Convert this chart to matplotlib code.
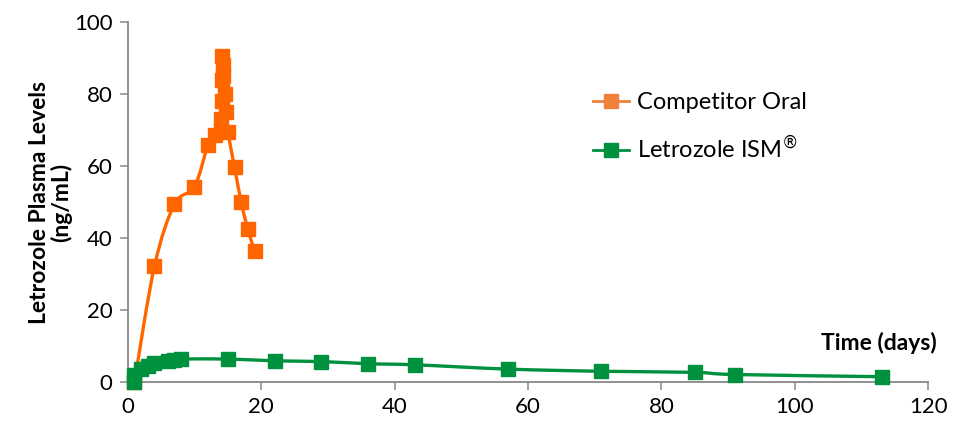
import matplotlib
matplotlib.use("Agg")
import matplotlib.pyplot as plt
import numpy as np
from matplotlib.lines import Line2D
from matplotlib.path import Path
from matplotlib.patches import PathPatch

plt.rcParams["font.family"] = ["Lato", "DejaVu Sans"]

# plasma levels (ng/mL) against time (days)
oral_days = [1, 4, 7, 10, 12, 13, 14.0, 14.04, 14.08, 14.12, 14.17, 14.25,
             14.33, 14.5, 14.67, 15, 16, 17, 18, 19]
oral_conc = [0, 32.2, 49.4, 54.3, 65.8, 68.6, 70, 73, 78, 84, 90.5, 88,
             85, 80, 75, 69.5, 59.8, 49.9, 42.5, 36.4]

ism_days = [1, 1, 2, 3, 4, 6, 7, 8, 15, 22, 29, 36, 43, 57, 71, 85, 91, 113]
ism_conc = [0, 2.0, 3.5, 4.5, 5.2, 5.9, 6.2, 6.4, 6.4, 5.9, 5.7, 5.1,
            4.8, 3.6, 3.0, 2.7, 2.1, 1.5]

ORANGE = "#FF6600"
GREEN = "#00913F"


def smooth_path(xs, ys):
    """Cubic Bezier through the points, Catmull-Rom style tangents."""
    p = np.column_stack([xs, ys]).astype(float)
    verts = [p[0]]
    codes = [Path.MOVETO]
    n = len(p)
    for i in range(n - 1):
        p0 = p[i - 1] if i > 0 else p[i]
        p3 = p[i + 2] if i + 2 < n else p[i + 1]
        c1 = p[i] + (p[i + 1] - p0) / 6.0
        c2 = p[i + 1] - (p3 - p[i]) / 6.0
        verts += [c1, c2, p[i + 1]]
        codes += [Path.CURVE4] * 3
    return Path(verts, codes)


fig = plt.figure(figsize=(9.68, 4.25), dpi=100)
ax = fig.add_axes([0.132, 0.101, 0.827, 0.847])

for xs, ys, col in [(oral_days, oral_conc, ORANGE), (ism_days, ism_conc, GREEN)]:
    ax.add_patch(PathPatch(smooth_path(xs, ys), facecolor="none",
                           edgecolor=col, lw=2.4, capstyle="round",
                           clip_on=False))
    ax.plot(xs, ys, ls="none", marker="s", ms=10, color=col, mec=col,
            clip_on=False, zorder=3)

ax.set_xlim(0, 120)
ax.set_ylim(0, 100)
ax.set_xticks(range(0, 121, 20))
ax.set_yticks(range(0, 101, 20))
for s in ["top", "right"]:
    ax.spines[s].set_visible(False)
for s in ["left", "bottom"]:
    ax.spines[s].set_color("#888888")
    ax.spines[s].set_linewidth(1.3)
ax.tick_params(direction="out", length=6, width=1.1, color="#888888",
               labelsize=16, labelcolor="black", pad=5)

ax.set_ylabel("Letrozole Plasma Levels\n(ng/mL)", fontsize=16.5,
              fontweight="bold", labelpad=1, linespacing=1.05)
ax.text(1.01, 0.11, "Time (days)", transform=ax.transAxes, ha="right",
        va="center", fontsize=16.5, fontweight="bold")

handles = [
    Line2D([], [], color="#F0803C", lw=2, marker="s", ms=10, mec="#F0803C"),
    Line2D([], [], color=GREEN, lw=2, marker="s", ms=10, mec=GREEN),
]
ax.legend(handles, ["Competitor Oral", "Letrozole ISM$^{\u00ae}$"],
          loc="upper left", bbox_to_anchor=(0.555, 0.865), frameon=False,
          fontsize=17, handlelength=1.5, handletextpad=0.35,
          labelspacing=0.95)

fig.savefig("out.png", dpi=100)
